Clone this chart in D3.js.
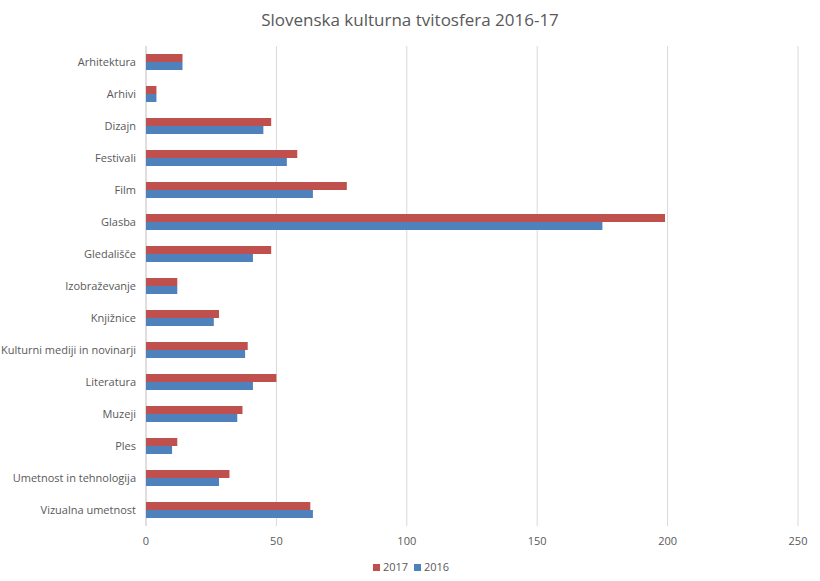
<!DOCTYPE html>
<html><head><meta charset="utf-8">
<script src="https://cdnjs.cloudflare.com/ajax/libs/d3/7.8.5/d3.min.js"></script>
<style>body{margin:0;background:#fff;font-family:"Open Sans","Noto Sans",sans-serif;}</style>
</head><body>
<script>
const categories=["Arhitektura","Arhivi","Dizajn","Festivali","Film","Glasba","Gledališče","Izobraževanje","Knjižnice","Kulturni mediji in novinarji","Literatura","Muzeji","Ples","Umetnost in tehnologija","Vizualna umetnost"];
const values2017=[14,4,48,58,77,199,48,12,28,39,50,37,12,32,63];
const values2016=[14,4,45,54,64,175,41,12,26,38,41,35,10,28,64];
const ticks=[0,50,100,150,200,250];
const W=820,H=581;
const svg=d3.select("body").append("svg").attr("width",W).attr("height",H);
const x=d3.scaleLinear().domain([0,250]).range([146,798]);
const y=d3.scaleBand().domain(categories).range([46,526]);
svg.append("text").attr("x",W/2).attr("y",26).attr("text-anchor","middle").attr("font-size",17).attr("fill","#595959").text("Slovenska kulturna tvitosfera 2016-17");
svg.selectAll(".g").data(ticks).enter().append("line").attr("x1",d=>x(d)).attr("x2",d=>x(d)).attr("y1",46).attr("y2",526).attr("stroke",d=>d===0?"#bfbfbf":"#d9d9d9");
svg.selectAll(".t").data(ticks).enter().append("text").attr("x",d=>x(d)).attr("y",545).attr("text-anchor","middle").attr("font-size",11).attr("fill","#595959").text(d=>d);
const bh=8;
svg.selectAll(".r").data(categories).enter().append("rect").attr("x",x(0)).attr("y",d=>y(d)+y.bandwidth()/2-bh).attr("width",(d,i)=>x(values2017[i])-x(0)).attr("height",bh).attr("fill","#C0504D");
svg.selectAll(".b").data(categories).enter().append("rect").attr("x",x(0)).attr("y",d=>y(d)+y.bandwidth()/2).attr("width",(d,i)=>x(values2016[i])-x(0)).attr("height",bh).attr("fill","#4F81BD");
svg.selectAll(".c").data(categories).enter().append("text").attr("x",136).attr("y",d=>y(d)+y.bandwidth()/2+4).attr("text-anchor","end").attr("font-size",11).attr("fill","#595959").text(d=>d);
const lg=[["2017","#C0504D",373],["2016","#4F81BD",414]];
lg.forEach(([t,c,lx])=>{svg.append("rect").attr("x",lx).attr("y",564).attr("width",7).attr("height",7).attr("fill",c);
svg.append("text").attr("x",lx+10).attr("y",571).attr("font-size",11).attr("fill","#595959").text(t);});
</script></body></html>
